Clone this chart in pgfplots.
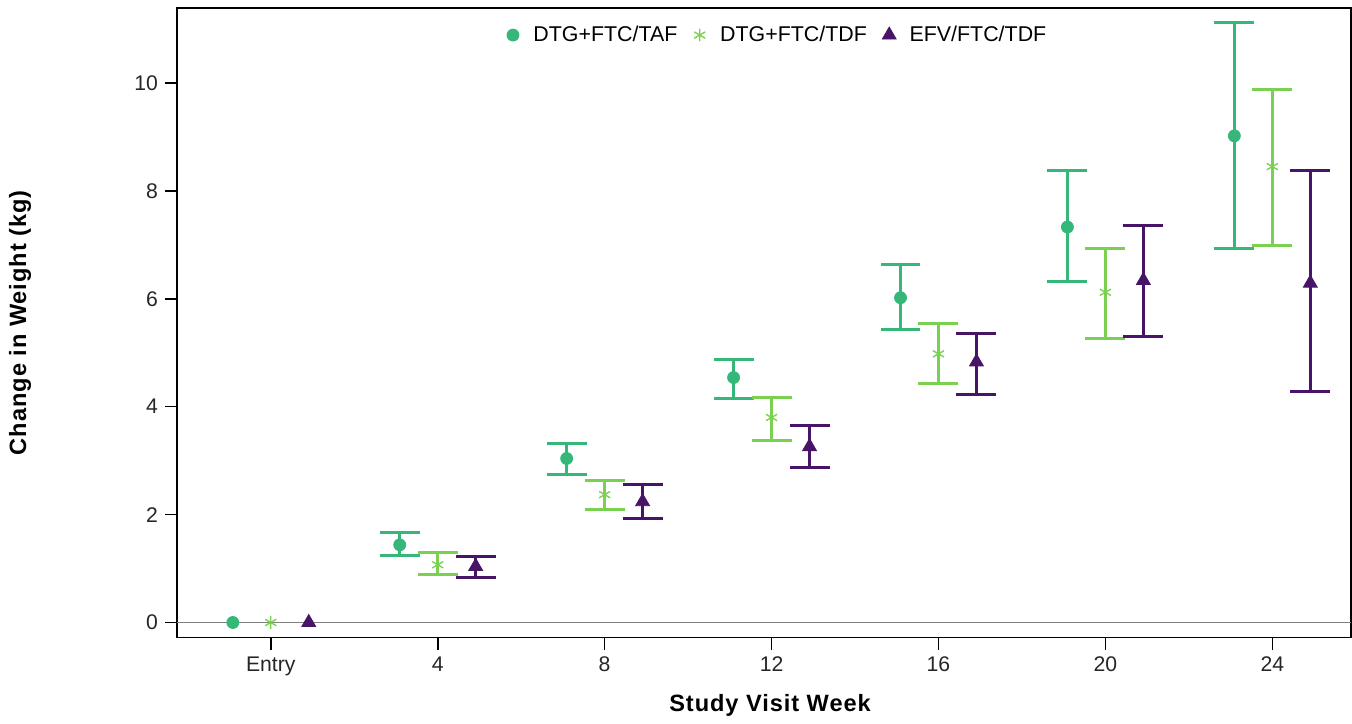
\documentclass[border=0pt]{standalone}
\usepackage{fontspec}
\setmainfont{Liberation Sans}
\newfontfamily\labelfont[LetterSpace=4]{Liberation Sans}
\usepackage{pgfplots}
\pgfplotsset{compat=1.18}

\definecolor{taf}{HTML}{35B779}
\definecolor{tdf}{HTML}{7AD151}
\definecolor{efv}{HTML}{471468}

\begin{document}
\begin{tikzpicture}
\begin{axis}[
    scale only axis,
    width=587.5pt, height=315pt,
    xmin=-2.25, xmax=25.89,
    ymin=-0.28, ymax=11.39,
    xtick={0,4,8,12,16,20,24},
    xticklabels={Entry,4,8,12,16,20,24},
    ytick={0,2,4,6,8,10},
    xtick pos=lower, ytick pos=left,
    tick align=outside,
    major tick length=6pt,
    tick style={black, line width=0.8pt},
    axis line style={black, line width=0.8pt},
    /pgf/number format/assume math mode=true,
    tick label style={font=\fontsize{10.6}{12}\selectfont, text=black!85},
    xlabel={Study Visit Week},
    ylabel={Change in Weight (kg)},
    every axis y label/.style={at={(rel axis cs:0,0.5)}, xshift=-78.5pt,
        rotate=90, anchor=center,
        font=\fontsize{11.8}{14}\selectfont\labelfont\bfseries},
    every axis x label/.style={at={(rel axis cs:0.5,0)}, yshift=-34pt,
        xshift=3pt, anchor=center,
        font=\fontsize{11.8}{14}\selectfont\labelfont\bfseries},
    legend style={at={(0.508,0.985)}, anchor=north, draw=none, fill=none,
        legend columns=-1, font=\fontsize{10.7}{12}\selectfont,
        /tikz/every even column/.append style={column sep=1pt}},
    legend cell align=left,
    legend image code/.code={\path (0pt,0pt) (16pt,0pt);
        \draw plot coordinates {(8pt,0pt)};},
    error bars/y dir=both, error bars/y explicit,
    error bars/error mark=-,
]
\addplot[gray, line width=0.6pt, forget plot] coordinates {(-2.25,0) (25.89,0)};

\addplot[only marks, mark=*, mark size=3pt, color=taf,
    error bars/error bar style={taf, line width=1.5pt},
    error bars/error mark options={taf, line width=1.5pt, mark size=10pt, rotate=90}]
coordinates {
(-0.91,0)
(3.09,1.44) += (0,0.23) -= (0,0.20)
(7.09,3.04) += (0,0.27) -= (0,0.30)
(11.09,4.54) += (0,0.33) -= (0,0.39)
(15.09,6.02) += (0,0.61) -= (0,0.59)
(19.09,7.33) += (0,1.05) -= (0,1.01)
(23.09,9.02) += (0,2.10) -= (0,2.09)
};
\addlegendentry{DTG+FTC/TAF}

\addplot[only marks, mark=asterisk, mark size=3.2pt, color=tdf,
    mark options={line width=0.7pt},
    error bars/error bar style={tdf, line width=1.5pt},
    error bars/error mark options={tdf, line width=1.5pt, mark size=10pt, rotate=90}]
coordinates {
(0,0)
(4,1.07) += (0,0.23) -= (0,0.18)
(8,2.37) += (0,0.26) -= (0,0.28)
(12,3.80) += (0,0.37) -= (0,0.43)
(16,4.98) += (0,0.56) -= (0,0.55)
(20,6.12) += (0,0.81) -= (0,0.85)
(24,8.45) += (0,1.42) -= (0,1.46)
};
\addlegendentry{DTG+FTC/TDF}

\addplot[only marks, mark=triangle*, mark size=4pt, color=efv,
    error bars/error bar style={efv, line width=1.5pt},
    error bars/error mark options={efv, line width=1.5pt, mark size=10pt, rotate=90}]
coordinates {
(0.91,0)
(4.91,1.04) += (0,0.18) -= (0,0.21)
(8.91,2.24) += (0,0.32) -= (0,0.31)
(12.91,3.26) += (0,0.39) -= (0,0.39)
(16.91,4.83) += (0,0.52) -= (0,0.61)
(20.91,6.34) += (0,1.02) -= (0,1.04)
(24.91,6.29) += (0,2.09) -= (0,2.01)
};
\addlegendentry{EFV/FTC/TDF}

\coordinate (tl) at (rel axis cs:0,1);
\coordinate (br) at (rel axis cs:1,0);
\end{axis}
\path (tl) ++(-88.5pt,4pt);
\path (br) ++(0,-42.5pt);
\end{tikzpicture}
\end{document}
